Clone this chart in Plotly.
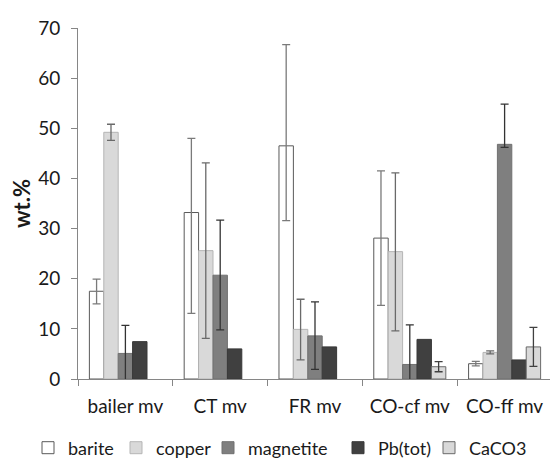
import plotly.graph_objects as go

categories = ["bailer mv", "CT mv", "FR mv", "CO-cf mv", "CO-ff mv"]

barite = [17.5, 33.2, 46.5, 28.1, 3.05]
barite_err_plus = [2.4, 14.8, 20.2, 13.4, 0.45]
barite_err_minus = [2.5, 20.1, 14.9, 13.4, 0.45]

copper = [49.2, 25.6, 9.9, 25.4, 5.3]
copper_err_plus = [1.6, 17.5, 6.0, 15.7, 0.3]
copper_err_minus = [1.6, 17.5, 6.1, 15.8, 0.3]

magnetite = [5.1, 20.7, 8.6, 2.9, 46.8]
magnetite_err_plus = [5.6, 11.0, 6.8, 7.9, 8.0]
magnetite_err_minus = [5.6, 10.9, 6.7, 7.9, 0.6]

pb_tot = [7.45, 6.0, 6.4, 7.9, 3.8]

caco3 = [None, None, None, 2.45, 6.4]
caco3_err = [None, None, None, 1.0, 3.9]

FONT = "Lato"
TXT = "#1a1a1a"
AX = "#868686"

fig = go.Figure()

def err(plus, minus, color):
    return dict(type="data", symmetric=False, array=plus, arrayminus=minus,
                color=color, thickness=1.3, width=4)

fig.add_trace(go.Bar(name="barite", x=categories, y=barite,
                     marker=dict(color="#ffffff", line=dict(color="#595959", width=1)),
                     error_y=err(barite_err_plus, barite_err_minus, "#7a7a7a"),
                     legendwidth=43))
fig.add_trace(go.Bar(name="copper", x=categories, y=copper,
                     marker=dict(color="#d9d9d9", line=dict(color="#b5b5b5", width=1)),
                     error_y=err(copper_err_plus, copper_err_minus, "#6a6a6a"),
                     legendwidth=47))
fig.add_trace(go.Bar(name="magnetite", x=categories, y=magnetite,
                     marker=dict(color="#7f7f7f", line=dict(color="#707070", width=1)),
                     error_y=err(magnetite_err_plus, magnetite_err_minus, "#333333"),
                     legendwidth=85))
fig.add_trace(go.Bar(name="Pb(tot)", x=categories, y=pb_tot,
                     marker=dict(color="#404040", line=dict(color="#383838", width=1)),
                     legendwidth=46))
fig.add_trace(go.Bar(name="CaCO3", x=categories, y=caco3,
                     marker=dict(color="#d9d9d9", line=dict(color="#6a6a6a", width=1)),
                     error_y=dict(type="data", array=caco3_err, color="#404040",
                                  thickness=1.3, width=4),
                     legendwidth=60))

fig.update_layout(
    width=550, height=457,
    margin=dict(l=70, r=6, t=20, b=86, autoexpand=False),
    paper_bgcolor="white", plot_bgcolor="white",
    font=dict(family=FONT, size=19, color=TXT),
    barmode="group", bargap=0.24, bargroupgap=0,
    showlegend=True,
    legend=dict(orientation="h", xref="paper", yref="paper",
                x=(28 - 78) / 474, xanchor="left",
                y=(379 - 448) / 351, yanchor="middle",
                font=dict(family=FONT, size=18, color=TXT),
                itemwidth=30, traceorder="normal", bgcolor="rgba(0,0,0,0)"),
    xaxis=dict(type="category", showline=True, linecolor=AX, linewidth=1,
               ticks="outside", tickson="boundaries", ticklen=6, tickcolor=AX,
               showgrid=False, automargin=False, ticklabelstandoff=10,
               tickfont=dict(family=FONT, size=19, color=TXT)),
    yaxis=dict(range=[0, 70], dtick=10, tick0=0, showline=True, linecolor=AX,
               linewidth=1, ticks="outside", ticklen=6, tickcolor=AX,
               showgrid=False, zeroline=False, automargin=False,
               ticklabelstandoff=7,
               tickfont=dict(family=FONT, size=19, color=TXT),
               title=dict(text="<b>wt.%</b>", standoff=7,
                          font=dict(family=FONT, size=22, color=TXT))),
)

fig.write_html("out.html")
